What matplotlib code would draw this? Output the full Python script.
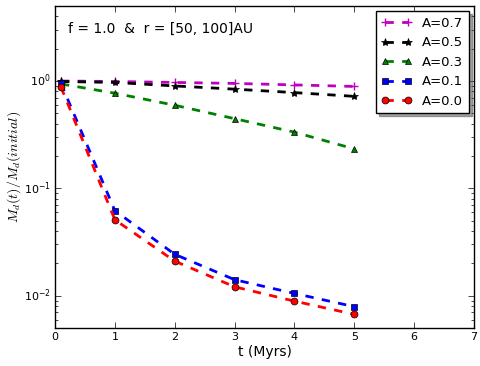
import matplotlib
matplotlib.use("Agg")
import matplotlib.pyplot as plt

plt.style.use("classic")
plt.rcParams["mathtext.fontset"] = "cm"

t = [0.1, 1, 2, 3, 4, 5]
a07 = [1.0, 0.99, 0.97, 0.95, 0.92, 0.89]
a05 = [0.99, 0.97, 0.90, 0.84, 0.78, 0.72]
a03 = [0.94, 0.77, 0.595, 0.446, 0.334, 0.233]
a01 = [0.95, 0.062, 0.0243, 0.0141, 0.0105, 0.0079]
a00 = [0.88, 0.051, 0.021, 0.0121, 0.0089, 0.0067]

fig = plt.figure(figsize=(4.8, 3.66), dpi=100, facecolor="white")
ax = fig.add_axes([0.1146, 0.1038, 0.8729, 0.8798])

ax.plot(t, a07, "m--+", lw=2, ms=6, mew=1, label="A=0.7")
ax.plot(t, a05, "k--*", lw=2, ms=6, label="A=0.5")
ax.plot(t, a03, "g--^", lw=2, ms=5, label="A=0.3")
ax.plot(t, a01, "b--s", lw=2, ms=5, label="A=0.1")
ax.plot(t, a00, "r--o", lw=2, ms=5, label="A=0.0")

ax.set_yscale("log")
ax.set_xlim(0, 7)
ax.set_ylim(0.005, 5)
ax.set_xlabel("t (Myrs)", fontsize=10, labelpad=2)
ax.set_ylabel(r"$M_d(t)/M_d(initial)$", fontsize=10)
ax.yaxis.set_label_coords(-0.077, 0.5)
ax.tick_params(labelsize=8, length=4, pad=3)
ax.tick_params(which="minor", length=2)
ax.text(0.03, 0.93, "f = 1.0  &  r = [50, 100]AU", transform=ax.transAxes,
        fontsize=10, va="center")
ax.legend(loc="upper right", shadow=True, fontsize=9.5, numpoints=2,
          handlelength=2.3, borderaxespad=0.4)

fig.savefig("out.png", dpi=100, facecolor="white")
